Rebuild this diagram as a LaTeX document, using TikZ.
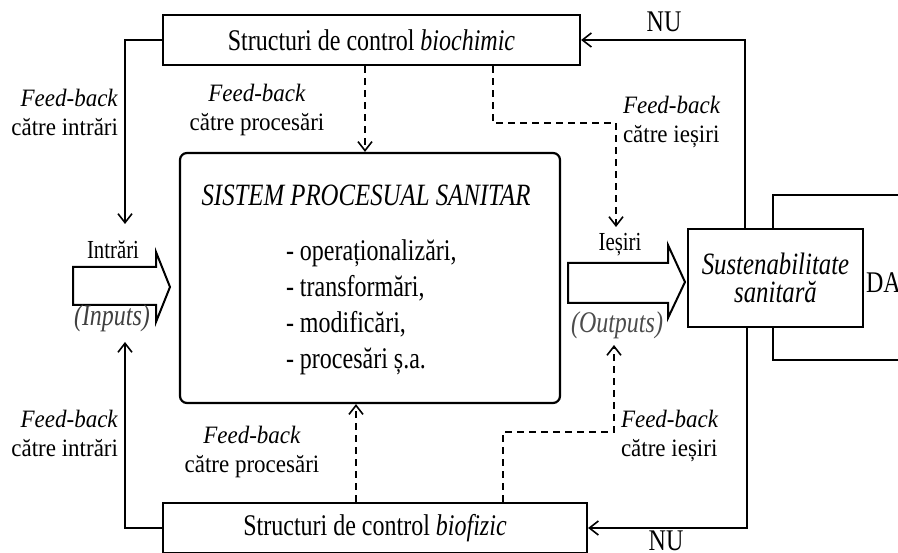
\documentclass[tikz,border=0pt]{standalone}
\usepackage{fontspec}
\setmainfont{Liberation Serif}[FakeStretch=0.8]
\newfontfamily\fbfont{Liberation Serif}[FakeStretch=0.92]
\usetikzlibrary{arrows.meta,calc}
\begin{document}
\begin{tikzpicture}[x=1pt,y=-1pt,line width=2pt,
  every node/.style={inner sep=0pt},
  box/.style={draw, line width=2.2pt},
  arr/.style={-{Straight Barb[length=9pt,width=14pt,line width=1.6pt]}},
  dsh/.style={dash pattern=on 7pt off 5pt, line width=1.8pt},
  big/.style={font=\fontsize{30}{30}\selectfont},
  mid/.style={font=\fontsize{26}{26}\selectfont},
  huge/.style={font=\fontsize{31}{28}\selectfont},
  fb/.style={font=\fbfont\fontsize{25}{29}\selectfont, align=center}
]
\useasboundingbox (0,0) rectangle (898,553);
% boxes
\node[box, big, minimum width=417pt, minimum height=50pt] (bio) at (371.5,40) {Structuri de control \textit{biochimic}};
\node[box, big, minimum width=424pt, minimum height=50pt] (bfz) at (375,528) {Structuri de control \textit{biofizic}};
\node[box, rounded corners=7pt, minimum width=380pt, minimum height=250pt] (sys) at (370,278) {};
\node[box, huge, align=center, minimum width=175pt, minimum height=98pt] (sust) at (775.5,278) {\textit{Sustenabilitate}\\\textit{sanitară}};
% block arrows
\draw (73,267) -- (156,267) -- (156,252) -- (170,287) -- (156,322) -- (156,305) -- (73,305) -- cycle;
\draw (568,263) -- (668,263) -- (668,245) -- (685,282) -- (668,318) -- (668,303) -- (568,303) -- cycle;
% texts in main box
\node[huge] (sysT) at (366,195) {\textit{SISTEM PROCESUAL SANITAR}};
\node[big, anchor=base west] (l1) at (285,261) {- operaționalizări,};
\node[big, anchor=base west] (l2) at (285,297) {- transformări,};
\node[big, anchor=base west] (l3) at (285,333) {- modificări,};
\node[big, anchor=base west] (l4) at (285,369) {- procesări ș.a.};
% labels
\node[mid] (intr) at (113,250) {Intrări};
\node[big, text=black!75] (inp) at (112,318) {\textit{(Inputs)}};
\node[mid] (ies) at (620,245) {Ieșiri};
\node[big, text=black!70] (outp) at (617,325) {\textit{(Outputs)}};
\node[big, anchor=west] (da) at (865,283) {DA};
\node[big] (nu1) at (664,22) {NU};
\node[big] (nu2) at (666,541) {NU};
\node[fb, anchor=east, align=right] (fbl1) at (119,112) {\textit{Feed-back}\\către intrări};
\node[fb, anchor=east, align=right] (fbl2) at (119,433) {\textit{Feed-back}\\către intrări};
\node[fb] (fbp1) at (257,110) {\textit{Feed-back}\\către procesări};
\node[fb] (fbp2) at (252,452) {\textit{Feed-back}\\către procesări};
\node[fb, anchor=west, align=left] (fbo1) at (622,122) {\textit{Feed-back}\\către ieșiri};
\node[fb, anchor=west, align=left] (fbo2) at (620,436) {\textit{Feed-back}\\către ieșiri};
% coordinates
\coordinate (inT) at (125,224);
\coordinate (inB) at (125,342);
\coordinate (nx) at (745,0);
\coordinate (nx2) at (747,0);
\coordinate (dax) at (773,0);
\coordinate (daT) at (898,195);
\coordinate (daB) at (898,360);
\coordinate (pT) at (365,0);
\coordinate (pB) at (356,0);
\coordinate (oT) at (493,123);
\coordinate (oTtip) at (616,227);
\coordinate (oB) at (503,432);
\coordinate (oBtip) at (614,345);
% connectors
\draw[arr] (bio.west) -| (inT);
\draw[arr] (bfz.west) -| (inB);
\draw[arr] (nx |- sust.north) |- (bio.east);
\draw[arr] (nx2 |- sust.south) |- (bfz.east);
\draw (dax |- sust.north) |- (daT);
\draw (dax |- sust.south) |- (daB);
\draw[dsh,arr] (pT |- bio.south) -- (pT |- sys.north);
\draw[dsh,arr] (pB |- bfz.north) -- (pB |- sys.south);
\draw[dsh,arr] (oT |- bio.south) -- (oT) -| (oTtip);
\draw[dsh,arr] (oB |- bfz.north) -- (oB) -| (oBtip);
\end{tikzpicture}
\end{document}
